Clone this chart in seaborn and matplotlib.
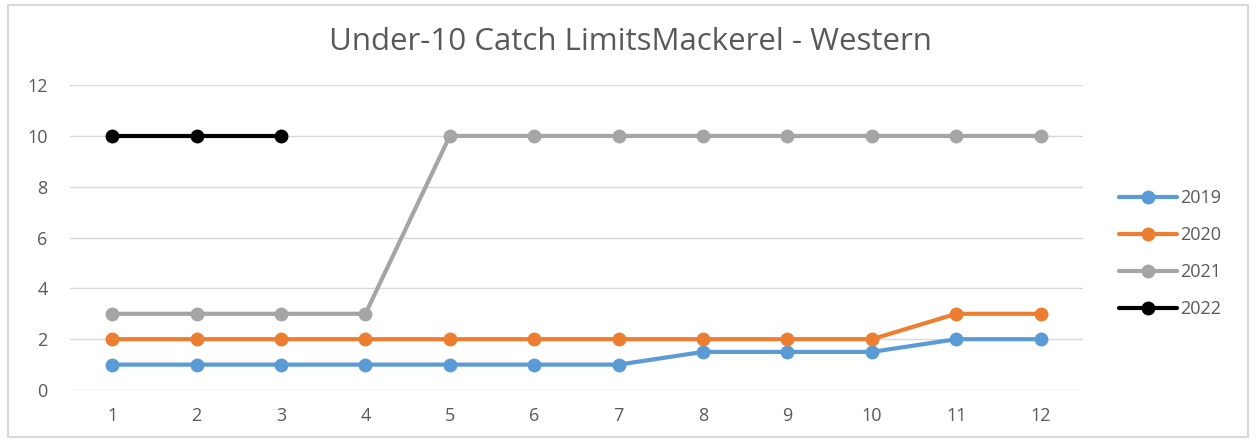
import matplotlib
matplotlib.use("Agg")
import matplotlib.pyplot as plt
import seaborn as sns
import pandas as pd
from matplotlib.patches import Rectangle

months = list(range(1, 13))
y2019 = [1, 1, 1, 1, 1, 1, 1, 1.5, 1.5, 1.5, 2, 2]
y2020 = [2, 2, 2, 2, 2, 2, 2, 2, 2, 2, 3, 3]
y2021 = [3, 3, 3, 3, 10, 10, 10, 10, 10, 10, 10, 10]
y2022 = [10, 10, 10]
years = ["2019", "2020", "2021", "2022"]
colors = ["#5B9BD5", "#ED7D31", "#A5A5A5", "#000000"]
title = "Under-10 Catch LimitsMackerel - Western"

rows = []
for yr, vals in zip(years, [y2019, y2020, y2021, y2022]):
    for m, v in zip(months, vals):
        rows.append({"month": m, "value": v, "year": yr})
df = pd.DataFrame(rows)

sns.set_theme(style="white")
plt.rcParams["font.family"] = ["Open Sans", "DejaVu Sans"]

fig = plt.figure(figsize=(12.56, 4.41), dpi=100)
ax = fig.add_axes([0.0557, 0.1156, 0.8065, 0.6914])

sns.lineplot(data=df, x="month", y="value", hue="year", palette=dict(zip(years, colors)),
             marker="o", markersize=10, markeredgewidth=0, linewidth=3, ax=ax,
             legend=True)

ax.set_xlim(0.5, 12.5)
ax.set_ylim(0, 12)
ax.set_yticks(range(0, 13, 2))
ax.set_xticks(months)
ax.set_xlabel("")
ax.set_ylabel("")
ax.grid(axis="y", color="#D9D9D9", linewidth=1)
ax.set_axisbelow(True)
for s in ax.spines.values():
    s.set_visible(False)
ax.tick_params(axis="both", length=0, labelsize=13, colors="#595959", pad=12)
ax.tick_params(axis="y", pad=16)

fig.text(0.502, 0.905, title, fontsize=22.5, color="#595959", ha="center", va="center")

leg = ax.legend(loc="center left", bbox_to_anchor=(1.02, 0.447), frameon=False,
                fontsize=13, labelspacing=1.05, handlelength=3.2, handletextpad=0.15)
for t in leg.get_texts():
    t.set_color("#595959")

fig.patches.append(Rectangle((0.006, 0.009), 0.988, 0.98, transform=fig.transFigure,
                             fill=False, edgecolor="#D9D9D9", linewidth=1.5))

fig.savefig("out.png", dpi=100)
